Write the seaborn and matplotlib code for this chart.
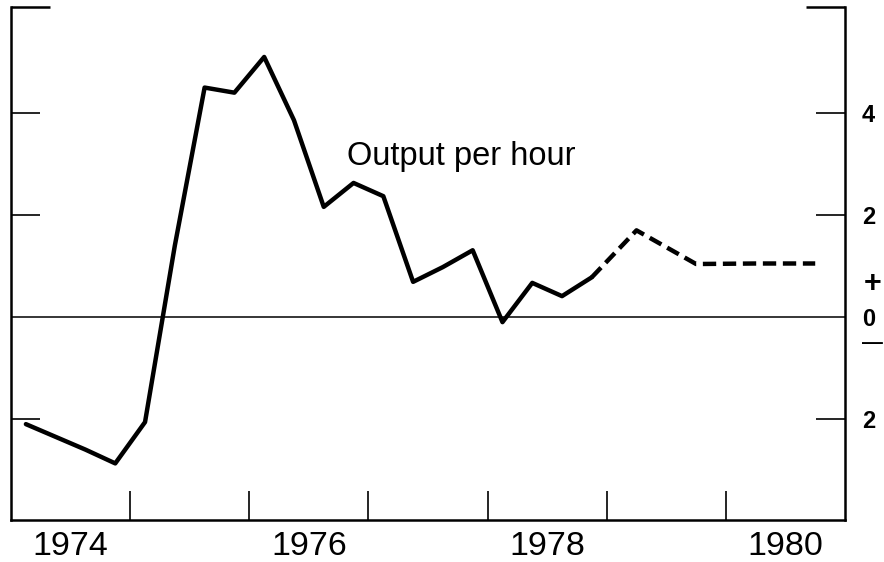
import pandas as pd
import matplotlib
matplotlib.use("Agg")
import matplotlib.pyplot as plt
import matplotlib.transforms as mtransforms
import seaborn as sns

# Dados trimestrais (linha cheia) - variação da produção por hora
trimestres = [1974.125, 1974.375, 1974.625, 1974.875,
              1975.125, 1975.375, 1975.625, 1975.875,
              1976.125, 1976.375, 1976.625, 1976.875,
              1977.125, 1977.375, 1977.625, 1977.875,
              1978.125, 1978.375, 1978.625, 1978.875]
valores = [-2.1, -2.35, -2.6, -2.87,
           -2.06, 1.4, 4.5, 4.4,
           5.1, 3.86, 2.16, 2.63,
           2.37, 0.69, 0.98, 1.31,
           -0.1, 0.67, 0.41, 0.78]

# Projeção semestral (linha tracejada)
proj_x = [1978.875, 1979.25, 1979.75, 1980.25, 1980.75]
proj_y = [0.78, 1.7, 1.04, 1.05, 1.05]

anos_rotulos = [1974.5, 1976.5, 1978.5, 1980.5]
anos_texto = ["1974", "1976", "1978", "1980"]
divisas_anos = [1975, 1976, 1977, 1978, 1979, 1980]
y_ticks = [-2, 0, 2, 4]
y_rotulos = ["2", "0", "2", "4"]

sns.set_style("white")
plt.rcParams["font.family"] = ["Liberation Sans", "DejaVu Sans"]
plt.rcParams["text.color"] = "black"
plt.rcParams["xtick.color"] = "black"
plt.rcParams["ytick.color"] = "black"

df = pd.DataFrame({"ano": trimestres, "valor": valores})
df_proj = pd.DataFrame({"ano": proj_x, "valor": proj_y})

fig = plt.figure(figsize=(8.84, 5.62), dpi=100)
ax = fig.add_axes([11 / 884, 1 - 520 / 562, 834 / 884, 513 / 562])

ax.axhline(0, color="black", lw=1.1, zorder=1)
sns.lineplot(data=df, x="ano", y="valor", color="black", lw=3.2, ax=ax, zorder=3)
sns.lineplot(data=df_proj, x="ano", y="valor", color="black", lw=3.2,
             ls=(0, (3, 1.5)), ax=ax, zorder=3)

ax.set_xlim(1974, 1981)
ax.set_ylim(-3.98, 6.08)
ax.set_xlabel("")
ax.set_ylabel("")

# Eixos
for lado in ["left", "right", "bottom"]:
    ax.spines[lado].set_visible(True)
    ax.spines[lado].set_color("black")
    ax.spines[lado].set_linewidth(1.8)
ax.spines["top"].set_visible(False)

# Eixo x: marcas nas divisas dos anos, rótulos no meio
ax.set_xticks(divisas_anos)
ax.set_xticklabels([])
ax.set_xticks(anos_rotulos, minor=True)
ax.set_xticklabels(anos_texto, minor=True)
ax.tick_params(axis="x", which="major", direction="in", length=21, width=1.2,
               bottom=True, top=False)
ax.tick_params(axis="x", which="minor", length=0, pad=8, labelsize=24.5)

# Eixo y: rótulos à direita
ax.set_yticks(y_ticks)
ax.set_yticklabels(y_rotulos)
ax.set_yticks([6.08], minor=True)
ax.tick_params(axis="y", which="major", direction="in", length=21, width=1.2,
               left=True, right=True, labelleft=False, labelright=True,
               pad=12, labelsize=17)
ax.tick_params(axis="y", which="minor", direction="in", length=28, width=1.8,
               left=True, right=True, labelleft=False, labelright=False)
for lbl in ax.get_yticklabels():
    lbl.set_fontweight("bold")
# sem marca no zero (a linha do zero já está lá)
for t in ax.yaxis.get_major_ticks():
    if abs(t.get_loc()) < 1e-9:
        t.tick1line.set_visible(False)
        t.tick2line.set_visible(False)

trans = mtransforms.blended_transform_factory(ax.transAxes, ax.transData)
ax.text(1.033, 0.64, "+", transform=trans, ha="center", va="center",
        fontsize=22, fontweight="bold")
ax.text(1.033, -0.5, "\u2014", transform=trans, ha="center", va="center",
        fontsize=15, fontweight="bold")

ax.text(1976.82, 2.98, "Output per hour", ha="left", va="baseline", fontsize=23.5)

fig.savefig("out.png", dpi=100)
